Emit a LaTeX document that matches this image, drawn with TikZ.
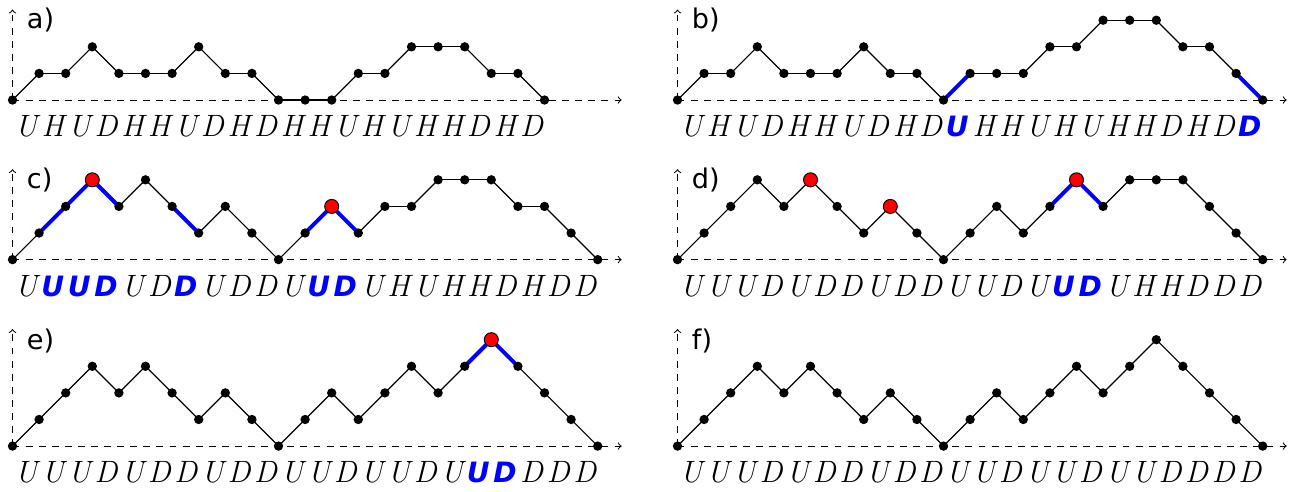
\documentclass[tikz,border=0pt]{standalone}
\usepackage{fontspec}
\newfontfamily\dejavu{DejaVu Sans}
\usetikzlibrary{calc}
\newcommand\lw[1]{\makebox[0.5cm]{#1}}
\newcommand\bw[1]{\makebox[0.5cm]{\dejavu\bfseries\itshape\fontsize{15}{17}\selectfont\color{blue}#1}}
\newcommand\latticepanel[5]{%
  % #1 name, #2 origin, #3 axis height, #4 heights, #5 number of steps
  \coordinate (#1O) at #2;
  \coordinate (#1X) at ($(#1O)+(22.9,0)$);
  \coordinate (#1Y) at ($(#1O)+(0,#3)$);
  \draw[axisline,->] (#1O) -- (#1X);
  \draw[axisline,->] (#1O) -- (#1Y);
  \foreach \h [count=\i from 0] in {#4} {\coordinate (#1-\i) at ($(#1O)+(\i,\h)$);}
  \foreach \i [remember=\i as \p (initially 0)] in {1,...,#5} {\draw[pathline] (#1-\p) -- (#1-\i);}
}
\newcommand\latticedots[2]{%
  \foreach \i in {0,...,#2} {\node[dot] (#1-p\i) at (#1-\i) {};}
}
\tikzset{
  axisline/.style={line width=0.55pt, dash pattern=on 3.7pt off 3.3pt},
  pathline/.style={line width=0.65pt, black},
  hiline/.style={line width=2.1pt, blue},
  dot/.style={circle, fill=black, inner sep=0pt, minimum size=5pt},
  reddot/.style={circle, fill=red, draw=black, line width=0.5pt, inner sep=0pt, minimum size=7.5pt},
  plabel/.style={font=\dejavu\fontsize{14.5}{16}\selectfont, anchor=base west, inner sep=0pt},
  wordlabel/.style={font=\fontsize{16.5}{19}\selectfont\itshape, anchor=base west, inner sep=0pt},
}
\begin{document}
\begin{tikzpicture}[x=0.5cm, y=0.5cm]
\useasboundingbox (0,0) rectangle (48.797,-18.496);

% ---------- a ----------
\latticepanel{a}{(0.47,-3.76)}{3.4}{0,1,1,2,1,1,1,2,1,1,0,0,0,1,1,2,2,2,1,1,0}{20}
\latticedots{a}{20}
\node[plabel] (aL) at ($(aO)+(0.53,2.68)$) {a)};
\node[wordlabel] (aW) at ($(aO)+(0,-1.39)$) {\lw{U}\lw{H}\lw{U}\lw{D}\lw{H}\lw{H}\lw{U}\lw{D}\lw{H}\lw{D}\lw{H}\lw{H}\lw{U}\lw{H}\lw{U}\lw{H}\lw{H}\lw{D}\lw{H}\lw{D}};

% ---------- b ----------
\latticepanel{b}{(25.47,-3.76)}{3.4}{0,1,1,2,1,1,1,2,1,1,0,1,1,1,2,2,3,3,3,2,2,1,0}{22}
\draw[hiline] (b-10) -- (b-11);
\draw[hiline] (b-21) -- (b-22);
\latticedots{b}{22}
\node[plabel] (bL) at ($(bO)+(0.53,2.68)$) {b)};
\node[wordlabel] (bW) at ($(bO)+(0,-1.39)$) {\lw{U}\lw{H}\lw{U}\lw{D}\lw{H}\lw{H}\lw{U}\lw{D}\lw{H}\lw{D}\bw{U}\lw{H}\lw{H}\lw{U}\lw{H}\lw{U}\lw{H}\lw{H}\lw{D}\lw{H}\lw{D}\bw{D}};

% ---------- c ----------
\latticepanel{c}{(0.47,-9.76)}{3.4}{0,1,2,3,2,3,2,1,2,1,0,1,2,1,2,2,3,3,3,2,2,1,0}{22}
\draw[hiline] (c-1) -- (c-2) -- (c-3) -- (c-4);
\draw[hiline] (c-6) -- (c-7);
\draw[hiline] (c-11) -- (c-12) -- (c-13);
\latticedots{c}{22}
\node[reddot] (c-r1) at (c-3) {};
\node[reddot] (c-r2) at (c-12) {};
\node[plabel] (cL) at ($(cO)+(0.53,2.68)$) {c)};
\node[wordlabel] (cW) at ($(cO)+(0,-1.39)$) {\lw{U}\bw{U}\bw{U}\bw{D}\lw{U}\lw{D}\bw{D}\lw{U}\lw{D}\lw{D}\lw{U}\bw{U}\bw{D}\lw{U}\lw{H}\lw{U}\lw{H}\lw{H}\lw{D}\lw{H}\lw{D}\lw{D}};

% ---------- d ----------
\latticepanel{d}{(25.47,-9.76)}{3.4}{0,1,2,3,2,3,2,1,2,1,0,1,2,1,2,3,2,3,3,3,2,1,0}{22}
\draw[hiline] (d-14) -- (d-15) -- (d-16);
\latticedots{d}{22}
\node[reddot] (d-r1) at (d-5) {};
\node[reddot] (d-r2) at (d-8) {};
\node[reddot] (d-r3) at (d-15) {};
\node[plabel] (dL) at ($(dO)+(0.53,2.68)$) {d)};
\node[wordlabel] (dW) at ($(dO)+(0,-1.39)$) {\lw{U}\lw{U}\lw{U}\lw{D}\lw{U}\lw{D}\lw{D}\lw{U}\lw{D}\lw{D}\lw{U}\lw{U}\lw{D}\lw{U}\bw{U}\bw{D}\lw{U}\lw{H}\lw{H}\lw{D}\lw{D}\lw{D}};

% ---------- e ----------
\latticepanel{e}{(0.47,-16.77)}{4.4}{0,1,2,3,2,3,2,1,2,1,0,1,2,1,2,3,2,3,4,3,2,1,0}{22}
\draw[hiline] (e-17) -- (e-18) -- (e-19);
\latticedots{e}{22}
\node[reddot] (e-r1) at (e-18) {};
\node[plabel] (eL) at ($(eO)+(0.53,3.62)$) {e)};
\node[wordlabel] (eW) at ($(eO)+(0,-1.37)$) {\lw{U}\lw{U}\lw{U}\lw{D}\lw{U}\lw{D}\lw{D}\lw{U}\lw{D}\lw{D}\lw{U}\lw{U}\lw{D}\lw{U}\lw{U}\lw{D}\lw{U}\bw{U}\bw{D}\lw{D}\lw{D}\lw{D}};

% ---------- f ----------
\latticepanel{f}{(25.47,-16.77)}{4.4}{0,1,2,3,2,3,2,1,2,1,0,1,2,1,2,3,2,3,4,3,2,1,0}{22}
\latticedots{f}{22}
\node[plabel] (fL) at ($(fO)+(0.53,3.62)$) {f)};
\node[wordlabel] (fW) at ($(fO)+(0,-1.37)$) {\lw{U}\lw{U}\lw{U}\lw{D}\lw{U}\lw{D}\lw{D}\lw{U}\lw{D}\lw{D}\lw{U}\lw{U}\lw{D}\lw{U}\lw{U}\lw{D}\lw{U}\lw{U}\lw{D}\lw{D}\lw{D}\lw{D}};
\end{tikzpicture}
\end{document}
